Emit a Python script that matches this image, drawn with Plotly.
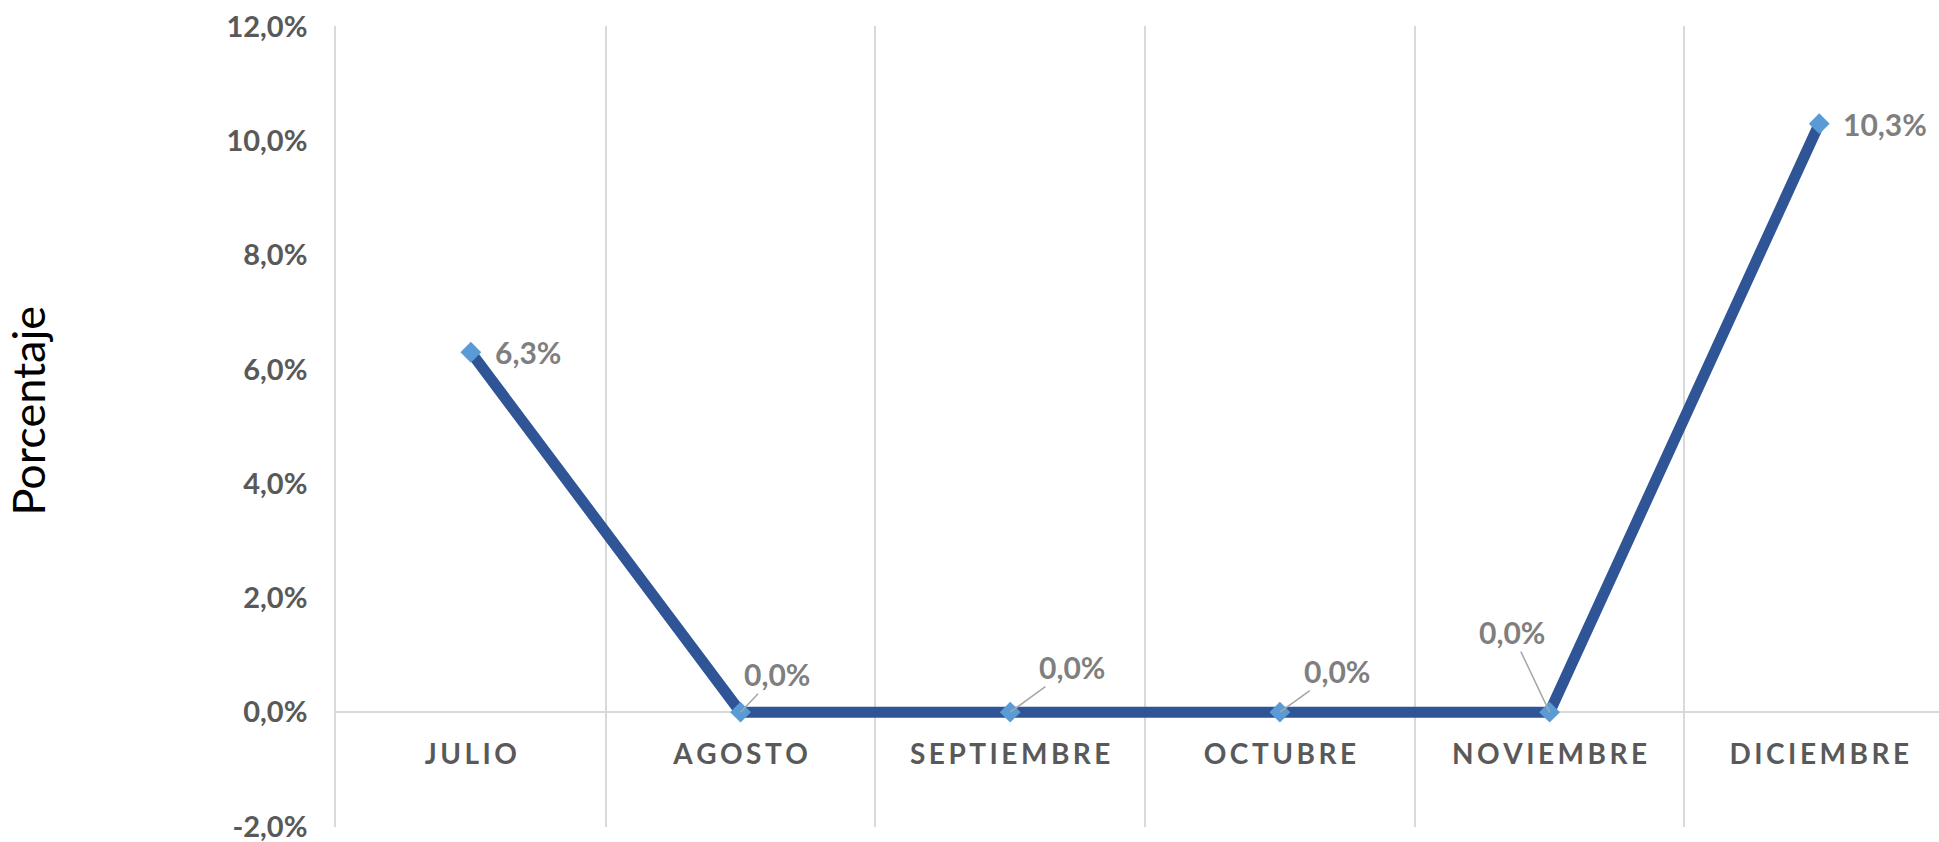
import plotly.graph_objects as go

# monthly variation, as fractions
months = ["JULIO", "AGOSTO", "SEPTIEMBRE", "OCTUBRE", "NOVIEMBRE", "DICIEMBRE"]
values = [0.063, 0.0, 0.0, 0.0, 0.0, 0.103]
y_ticks = [-0.02, 0.0, 0.02, 0.04, 0.06, 0.08, 0.10, 0.12]

# label offsets (pixels) for the data labels; None = no leader line
label_offsets = [None, (36, -38), (62, -45), (57, -41), (-38, -80), None]

LINE = "#2F5597"
MARKER = "#5B9BD5"
GRID = "#D9D9D9"
TICK = "#595959"
LABEL = "#7F7F7F"
FONT = "Lato"


def spaced(txt):
    # Excel-style letter spacing on the category labels
    return "\u2009".join(txt)


def fmt(v):
    return f"{v * 100:.1f}%".replace(".", ",")


fig = go.Figure()
fig.add_trace(go.Scatter(
    x=months, y=values, mode="lines+markers",
    line=dict(color=LINE, width=11),
    marker=dict(symbol="diamond", size=16, color=MARKER),
    hoverinfo="skip",
))

for m, v, off in zip(months, values, label_offsets):
    base = dict(x=m, y=v, xref="x", yref="y", text=fmt(v),
                font=dict(family=FONT, size=30, color=LABEL, weight="bold"))
    if off is None:
        fig.add_annotation(**base, showarrow=False, xanchor="left", xshift=22)
    else:
        fig.add_annotation(**base, showarrow=True, arrowhead=0, arrowwidth=1.5,
                           arrowcolor="#A6A6A6", standoff=0, ax=off[0], ay=off[1])

fig.add_annotation(
    text="Porcentaje", textangle=-90, showarrow=False,
    xref="paper", yref="paper", x=0, y=0.52, xanchor="center", yanchor="middle",
    xshift=-308, font=dict(family=FONT, size=45, color="#000000"),
)

fig.update_layout(
    width=1939, height=842,
    margin=dict(l=336, r=0, t=26, b=15),
    plot_bgcolor="white", paper_bgcolor="white",
    showlegend=False,
    xaxis=dict(
        type="category", range=[-0.5, 5.444],
        tickmode="array", tickvals=months, ticktext=[spaced(m) for m in months],
        tickson="boundaries", showgrid=True, gridcolor=GRID, gridwidth=1.5,
        anchor="free", position=2 / 14, showline=False, zeroline=False,
        ticks="", ticklabelstandoff=22,
        tickfont=dict(family=FONT, size=28, color=TICK, weight="bold"),
    ),
    yaxis=dict(
        range=[-0.0201, 0.1201], tickmode="array", tickvals=y_ticks,
        ticktext=[fmt(t) for t in y_ticks], ticklabeloverflow="allow",
        showgrid=False, zeroline=True, zerolinecolor=GRID, zerolinewidth=2,
        showline=True, linecolor=GRID, linewidth=1.5,
        ticks="", ticklabelstandoff=21,
        tickfont=dict(family=FONT, size=29, color=TICK, weight="bold"),
    ),
)

# drop the default page margin so the figure sits at the window origin
fig.write_html("out.html", config={"displayModeBar": False},
               post_script="document.body.style.margin='0';")
